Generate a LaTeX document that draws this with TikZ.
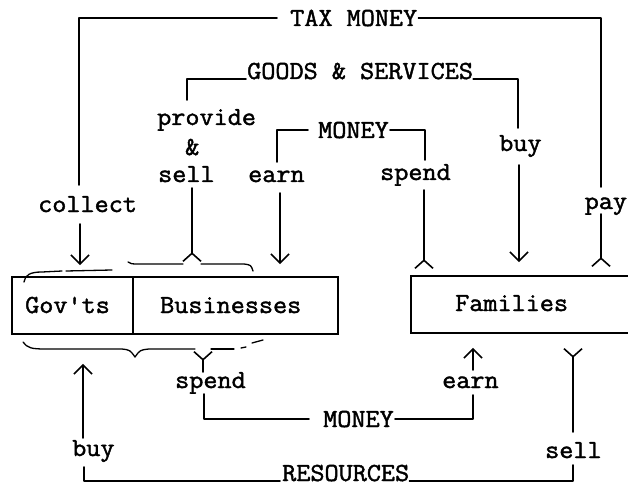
\documentclass[tikz,border=0pt]{standalone}
\usepackage{fontspec}
\setmonofont{Latin Modern Mono}[FakeBold=1.6]
\usetikzlibrary{arrows.meta}
\begin{document}
\begin{tikzpicture}[x=1pt,y=-1pt,
  lbl/.style={font=\ttfamily\fontsize{27.4}{29}\selectfont, inner sep=0pt, anchor=base west, yscale=0.95},
  flow/.style={line width=1.6pt, line cap=round, line join=round},
  into/.style={flow, -{Straight Barb[length=9pt,width=18pt]}},
  outof/.style={flow, -{Straight Barb[reversed,length=8pt,width=18pt]}},
  box/.style={draw, line width=1.8pt, minimum height=57pt, inner sep=0pt},
  brace/.style={line width=1.3pt, line cap=round, line join=round}]
\useasboundingbox (0,0) rectangle (628,486);
\begin{scope}
\clip (0,0) rectangle (628,486);

% the three sectors
\node[box, minimum width=121pt] (gov) at (72.5,305.5) {};
\node[box, minimum width=205pt] (bus) at (235.5,305.5) {};
\node[box, minimum width=300pt] (fam) at (561,304.5) {};
\node[lbl] (govt) at (25,313) {Gov'ts};
\node[lbl] (bust) at (160,313) {Businesses};
\node[lbl] (famt) at (455,311) {Families};

% flow labels above the boxes
\node[lbl] (tax) at (290,26) {TAX MONEY};
\node[lbl] (goods) at (247,79) {GOODS \& SERVICES};
\node[lbl] (money1) at (318,138) {MONEY};
\node[lbl] (provide) at (157,125) {provide};
\node[lbl] (amp) at (185,155) {\&};
\node[lbl] (sell1) at (158,182) {sell};
\node[lbl] (earn1) at (248,182) {earn};
\node[lbl] (spend1) at (380,180) {spend};
\node[lbl] (buy1) at (499,151) {buy};
\node[lbl] (collect) at (38,212) {collect};
\node[lbl] (pay) at (584.5,209) {pay};

% flow labels below the boxes
\node[lbl] (spend2) at (175,388) {spend};
\node[lbl] (earn2) at (442,388) {earn};
\node[lbl] (money2) at (323,427) {MONEY};
\node[lbl] (buy2) at (72,456) {buy};
\node[lbl] (sell2) at (545,458) {sell};
\node[lbl] (res) at (282,481) {RESOURCES};

% corner and break points of the flow lines
\coordinate (taxL) at (79,185);
\coordinate (taxLb) at (80,224);
\coordinate (taxR) at (601,187);
\coordinate (taxRb) at (601,214);
\coordinate (gsL) at (187,100);
\coordinate (gsLb) at (192,188);
\coordinate (gsR) at (518,128);
\coordinate (gsRb) at (519,165);
\coordinate (moL) at (277,162);
\coordinate (moLb) at (280,193);
\coordinate (moR) at (425,160);
\coordinate (moRb) at (424,190);
\coordinate (bmL) at (203,372);
\coordinate (bmLb) at (204,394);
\coordinate (bmR) at (473,395);
\coordinate (bmRb) at (473,370);
\coordinate (reL) at (83,438);
\coordinate (reLb) at (84,467);
\coordinate (reR) at (573,465);
\coordinate (reRb) at (573,432);

% tax money
\draw[flow] ([xshift=-13pt]tax.west) -| (taxL);
\draw[flow] ([xshift=1pt]tax.east) -| (taxR);
\draw[into, shorten >=11pt] (taxLb) -- (taxLb |- gov.north);
\draw[outof, shorten >=8pt] (taxRb) -- (taxRb |- fam.north);

% goods and services
\draw[flow] (gsL) |- ([xshift=-1pt]goods.base west);
\draw[flow] (goods.base east) -| (gsR);
\draw[outof, shorten >=14pt] (gsLb) -- (gsLb |- bus.north);
\draw[into, shorten >=13pt] (gsRb) -- (gsRb |- fam.north);

% money, families to businesses
\draw[flow] (moL) |- ([xshift=-10pt]money1.west);
\draw[flow] ([xshift=1pt]money1.east) -| (moR);
\draw[into, shorten >=12pt] (moLb) -- (moLb |- bus.north);
\draw[outof, shorten >=6pt] (moRb) -- (moRb |- fam.north);

% money, businesses to families
\draw[outof, shorten >=16pt] (bmL) -- (bmL |- bus.south);
\draw[flow] (bmLb) |- ([xshift=-14pt]money2.west);
\draw[flow] ([xshift=1pt]money2.east) -| (bmR);
\draw[into, shorten >=14pt] (bmRb) -- (bmRb |- fam.south);

% resources
\draw[into, shorten >=29pt] (reL) -- (reL |- gov.south);
\draw[flow] (reLb) |- ([xshift=-2pt]res.base west);
\draw[flow] (res.base east) -| (reR);
\draw[outof, shorten >=14pt] (reRb) -- (reRb |- fam.south);

% hand-drawn braces around the boxes
\draw[brace] (24,282) .. controls (25,275) and (30,272) .. (42,272) -- (62,271);
\draw[brace] (66,271) -- (112,270);
\draw[brace] (128,262) .. controls (131,264) .. (140,264) -- (183,264);
\draw[brace] (201,264) -- (244,264) .. controls (251,265) .. (253,271);
\draw[brace] (23,342) .. controls (27,348) and (32,349) .. (45,349) -- (122,349)
  .. controls (130,350) .. (135,357) .. controls (140,350) .. (149,349) -- (195,349);
\draw[brace] (211,349) -- (234,349);
\draw[brace] (241,348) -- (246,347);
\draw[brace] (252,343) -- (263,340);
\end{scope}
\end{tikzpicture}
\end{document}
